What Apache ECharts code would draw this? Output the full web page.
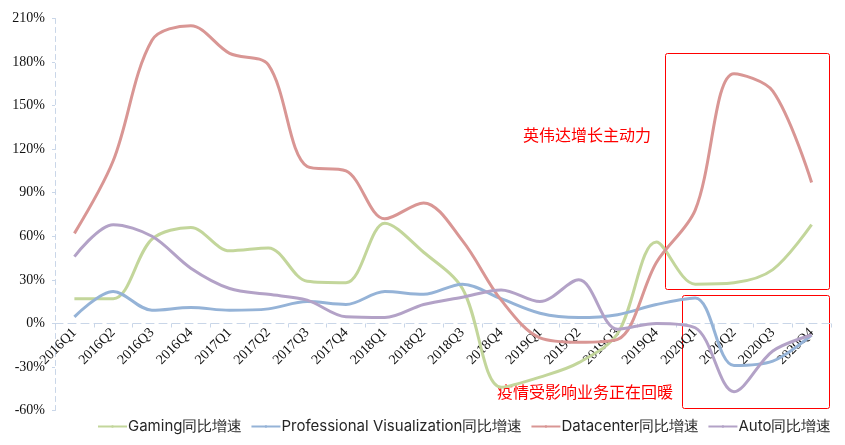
<!DOCTYPE html>
<html lang="zh">
<head>
    <meta charset="UTF-8">
    <title>英伟达各业务同比增速</title>
    <script src="https://cdn.jsdelivr.net/npm/echarts@6/dist/echarts.min.js"></script>
    <style>
        html,body{
            margin: 0;
            height: 100%;
            background: #fff;
        }
    </style>
</head>
<body>
<div id="main" style="width: 845px;height: 445px"></div>
<script>
    // 季度
    var quarters = ['2016Q1','2016Q2','2016Q3','2016Q4','2017Q1','2017Q2','2017Q3','2017Q4',
        '2018Q1','2018Q2','2018Q3','2018Q4','2019Q1','2019Q2','2019Q3','2019Q4',
        '2020Q1','2020Q2','2020Q3','2020Q4'];
    // 各业务同比增速(%)
    var gaming = [17, 17, 58, 66, 50, 52, 29, 28, 69, 49, 24, -44, -37, -27, -7, 56, 27, 28, 37, 68];
    var proVis = [4.5, 22, 9, 11, 9, 10, 15, 13, 22, 20, 27, 17, 7, 4, 6, 13, 17.5, -29, -26, -8];
    var datacenter = [62, 112, 195, 205, 186, 178, 108, 105, 72, 83, 57, 16, -10, -13, -11, 42, 78, 172, 160, 97];
    var auto = [46, 68, 60, 38, 24, 20, 16, 4.5, 4, 13, 18, 23, 15, 30, -4, 0, -3, -47, -19, -8];
    var yTicks = [-60, 210, 30];

    var myChart = echarts.init(document.getElementById('main'));

    function line(name, data, color) {
        return {
            name: name,
            type: 'line',
            data: data,
            smooth: 0.33,
            symbol: 'none',
            lineStyle: {color: color, width: 3},
            itemStyle: {color: color}
        };
    }

    var option = {
        animation: false,
        grid: {left: 55, right: 14, top: 18.5, bottom: 34.5, outerBoundsMode: 'none', containLabel: false},
        legend: {
            bottom: 6,
            left: 92,
            itemWidth: 29,
            itemHeight: 3,
            itemGap: 8,
            textStyle: {fontFamily: 'Inter', fontSize: 15, color: '#262626', padding: [0, 0, 0, -4]},
            data: ['Gaming同比增速', 'Professional Visualization同比增速', 'Datacenter同比增速', 'Auto同比增速']
        },
        xAxis: {
            type: 'category',
            data: quarters,
            boundaryGap: true,
            position: 'bottom',
            offset: -87,
            axisLine: {onZero: false, lineStyle: {color: '#c9d6e8', type: [8, 5], width: 1}},
            axisTick: {show: true, length: 4, lineStyle: {color: '#c9d6e8'}},
            axisLabel: {rotate: 45, fontFamily: 'Liberation Serif', fontSize: 14, color: '#111', margin: 7}
        },
        yAxis: {
            type: 'value',
            min: yTicks[0],
            max: yTicks[1],
            interval: yTicks[2],
            axisLine: {show: true, lineStyle: {color: '#c9d6e8', type: [5, 4], width: 1}},
            axisTick: {show: true, length: 3, lineStyle: {color: '#c9d6e8'}},
            splitLine: {show: false},
            axisLabel: {formatter: '{value}%', fontFamily: 'Liberation Serif', fontSize: 14, color: '#111', margin: 10}
        },
        graphic: [
            {type: 'rect', shape: {x: 665.5, y: 53.5, width: 164, height: 236, r: 2},
                style: {fill: null, stroke: '#ff0000', lineWidth: 1}},
            {type: 'rect', shape: {x: 682.5, y: 295.5, width: 147, height: 113, r: 2},
                style: {fill: null, stroke: '#ff0000', lineWidth: 1}},
            {type: 'text', left: 523, top: 127,
                style: {text: '英伟达增长主动力', fill: '#ff0000', font: '16px "Noto Sans CJK SC"'}},
            {type: 'text', left: 497, top: 384,
                style: {text: '疫情受影响业务正在回暖', fill: '#ff0000', font: '16px "Noto Sans CJK SC"'}}
        ],
        series: [
            line('Gaming同比增速', gaming, '#c3d69b'),
            line('Professional Visualization同比增速', proVis, '#95b3d7'),
            line('Datacenter同比增速', datacenter, '#d99694'),
            line('Auto同比增速', auto, '#b3a2c7')
        ]
    };
    myChart.setOption(option);
</script>
</body>
</html>
